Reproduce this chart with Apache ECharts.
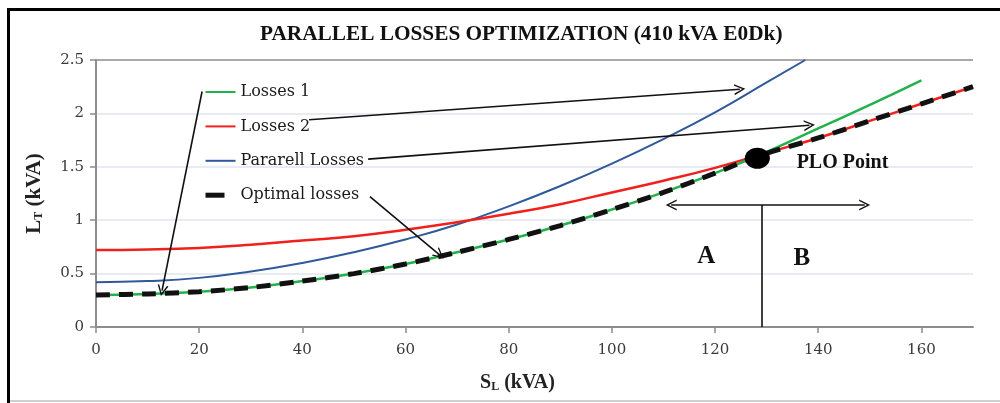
<!DOCTYPE html>
<html><head><meta charset="utf-8">
<script src="https://cdn.jsdelivr.net/npm/echarts@6/dist/echarts.min.js"></script>
<style>html,body{margin:0;padding:0;background:#fff}#c{width:1000px;height:403px}</style>
</head><body><div id="c"></div>
<script>
// ---- data ----
const xTicks = [0, 20, 40, 60, 80, 100, 120, 140, 160];
const losses1 = [[0,0.30],[10,0.31],[20,0.33],[30,0.37],[40,0.43],[50,0.50],[60,0.59],[70,0.70],[80,0.82],[90,0.95],[100,1.10],[110,1.26],[120,1.44],[130,1.64],[140,1.86],[150,2.08],[160,2.31]];
const losses2 = [[0,0.72],[10,0.725],[20,0.74],[30,0.77],[40,0.81],[50,0.85],[60,0.91],[70,0.98],[80,1.06],[90,1.15],[100,1.26],[110,1.37],[120,1.49],[130,1.63],[140,1.77],[150,1.93],[160,2.09],[170,2.25]];
const parallel = [[0,0.42],[10,0.43],[20,0.46],[30,0.52],[40,0.60],[50,0.70],[60,0.82],[70,0.96],[80,1.13],[90,1.32],[100,1.53],[110,1.76],[120,2.01],[130,2.29],[137.5,2.5]];
const optimal = [[0,0.30],[10,0.31],[20,0.33],[30,0.37],[40,0.43],[50,0.50],[60,0.59],[70,0.70],[80,0.82],[90,0.95],[100,1.10],[110,1.26],[120,1.44],[128.3,1.60],[140,1.77],[150,1.93],[160,2.09],[170,2.25]];
const ploPoint = [[128.2, 1.58]];
const seriesNames = ['Losses 1', 'Losses 2', 'Pararell Losses', 'Optimal losses'];
// annotation arrows: [from, to] in data units
const arrows = [
  [[20.56, 2.205], [12.8, 0.34]],
  [[41.3, 1.94], [124.8, 2.226]],
  [[52.75, 1.572], [138.3, 1.889]],
  [[53.1, 1.221], [66.6, 0.675]]
];
const doubleArrow = [[111.5, 1.143], [149.0, 1.143]];
const divider = [[129.0, 1.143], [129.0, 0]];
const notes = [{text: 'A', at: [118.3, 0.656]}, {text: 'B', at: [136.8, 0.64]}, {text: 'PLO Point', at: [144.7, 1.54]}];

const chev = 'path://M0,10 L5,0 L10,10 L8.6,10 L5,2.8 L1.4,10 Z';
const chart = echarts.init(document.getElementById('c'), null, {renderer: 'canvas'});
const serif = 'DejaVu Serif';
const tserif = 'Liberation Serif';

const mlData = arrows.map(a => [{coord: a[0], symbol: 'none'}, {coord: a[1], symbol: chev, symbolSize: [11, 11]}]);
mlData.push([{coord: doubleArrow[0], symbol: chev, symbolSize: [11, 11]}, {coord: doubleArrow[1], symbol: chev, symbolSize: [11, 11]}]);
mlData.push([{coord: divider[0], symbol: 'none'}, {coord: divider[1], symbol: 'none'}]);

const mpData = notes.map(n => ({
  coord: n.at, symbol: 'circle', symbolSize: 0,
  label: {show: true, formatter: n.text, position: 'inside', color: '#111',
    fontFamily: tserif, fontWeight: 'bold', fontSize: n.text.length > 1 ? 20 : 25}
}));

chart.setOption({
  animation: false,
  backgroundColor: '#fff',
  title: {
    text: 'PARALLEL LOSSES OPTIMIZATION (410 kVA E0Dk)',
    left: 255, top: 19,
    textStyle: {fontFamily: tserif, fontWeight: 'bold', fontSize: 21.3, color: '#111'}
  },
  graphic: [
    {type: 'rect', shape: {x: 7, y: 8, width: 1000, height: 3}, style: {fill: '#000'}},
    {type: 'rect', shape: {x: 7, y: 8, width: 3, height: 400}, style: {fill: '#000'}},
    {type: 'rect', shape: {x: 10, y: 400, width: 990, height: 2}, style: {fill: '#cfcfcf'}}
  ],
  legend: {
    data: [
      {name: seriesNames[0]}, {name: seriesNames[1]}, {name: seriesNames[2]},
      {name: seriesNames[3], lineStyle: {type: [19, 40], width: 5}}
    ],
    orient: 'vertical', left: 203, top: 82, padding: 0,
    itemWidth: 30, itemHeight: 14, itemGap: 14.4,
    itemStyle: {color: 'rgba(0,0,0,0)', borderColor: 'rgba(0,0,0,0)', borderWidth: 0},
    textStyle: {fontFamily: serif, fontSize: 16, color: '#1a1a1a', lineHeight: 20},
    selectedMode: false
  },
  grid: {left: 96, right: 27, top: 60, bottom: 76},
  xAxis: {
    type: 'value', min: 0, max: 170, interval: 20,
    name: 'S{sub|L} (kVA)', nameLocation: 'middle', nameGap: 46,
    nameTextStyle: {fontFamily: tserif, fontWeight: 'bold', fontSize: 20, color: '#222', padding: [0, 34, 0, 0],
      rich: {sub: {fontFamily: tserif, fontWeight: 'bold', fontSize: 12, color: '#222', verticalAlign: 'bottom', padding: [6, 0, 0, 0]}}},
    axisLine: {lineStyle: {color: '#8c8c8c', width: 2}},
    axisTick: {show: true, length: 6, lineStyle: {color: '#8c8c8c', width: 1.5}, customValues: xTicks},
    axisLabel: {margin: 16, fontFamily: serif, fontSize: 15, color: '#3a3a3a', customValues: xTicks},
    splitLine: {show: false}
  },
  yAxis: {
    type: 'value', min: 0, max: 2.5, interval: 0.5,
    name: 'L{sub|T} (kVA)', nameLocation: 'middle', nameGap: 51, nameRotate: 90,
    nameTextStyle: {fontFamily: tserif, fontWeight: 'bold', fontSize: 21, color: '#222',
      rich: {sub: {fontFamily: tserif, fontWeight: 'bold', fontSize: 12, color: '#222', verticalAlign: 'bottom', padding: [6, 0, 0, 0]}}},
    axisLine: {show: true, lineStyle: {color: '#8c8c8c', width: 2}},
    axisTick: {show: true, length: 6, lineStyle: {color: '#8c8c8c', width: 1.5}},
    axisLabel: {margin: 12, fontFamily: serif, fontSize: 15, color: '#3a3a3a'},
    splitLine: {show: true, lineStyle: {color: ['#8c8c8c', '#e2e5ef', '#e2e5ef', '#e2e5ef', '#e2e5ef', '#8c8c8c'], width: 1.5}}
  },
  series: [
    {name: seriesNames[2], type: 'line', data: parallel, showSymbol: false, symbol: 'none', smooth: 0.5,
      lineStyle: {color: '#30599b', width: 2}, itemStyle: {color: '#30599b'}, z: 2},
    {name: seriesNames[1], type: 'line', data: losses2, showSymbol: false, symbol: 'none', smooth: 0.5,
      lineStyle: {color: '#f0201c', width: 2.5}, itemStyle: {color: '#f0201c'}, z: 3},
    {name: seriesNames[0], type: 'line', data: losses1, showSymbol: false, symbol: 'none', smooth: 0.5,
      lineStyle: {color: '#22b14c', width: 2.5}, itemStyle: {color: '#22b14c'}, z: 4},
    {name: seriesNames[3], type: 'line', data: optimal, showSymbol: false, symbol: 'none', smooth: 0.3,
      lineStyle: {color: '#111', width: 5, type: [14, 9]}, itemStyle: {color: '#111'}, z: 5},
    {name: 'PLO', type: 'scatter', data: ploPoint, symbol: 'circle', symbolSize: [25, 21],
      itemStyle: {color: '#000', opacity: 1}, z: 6, silent: true,
      markLine: {silent: true, animation: false, symbol: 'none', label: {show: false},
        lineStyle: {color: '#111', width: 1.6, type: 'solid'}, emphasis: {disabled: true}, data: mlData},
      markPoint: {silent: true, animation: false, data: mpData}}
  ]
});
</script></body></html>
